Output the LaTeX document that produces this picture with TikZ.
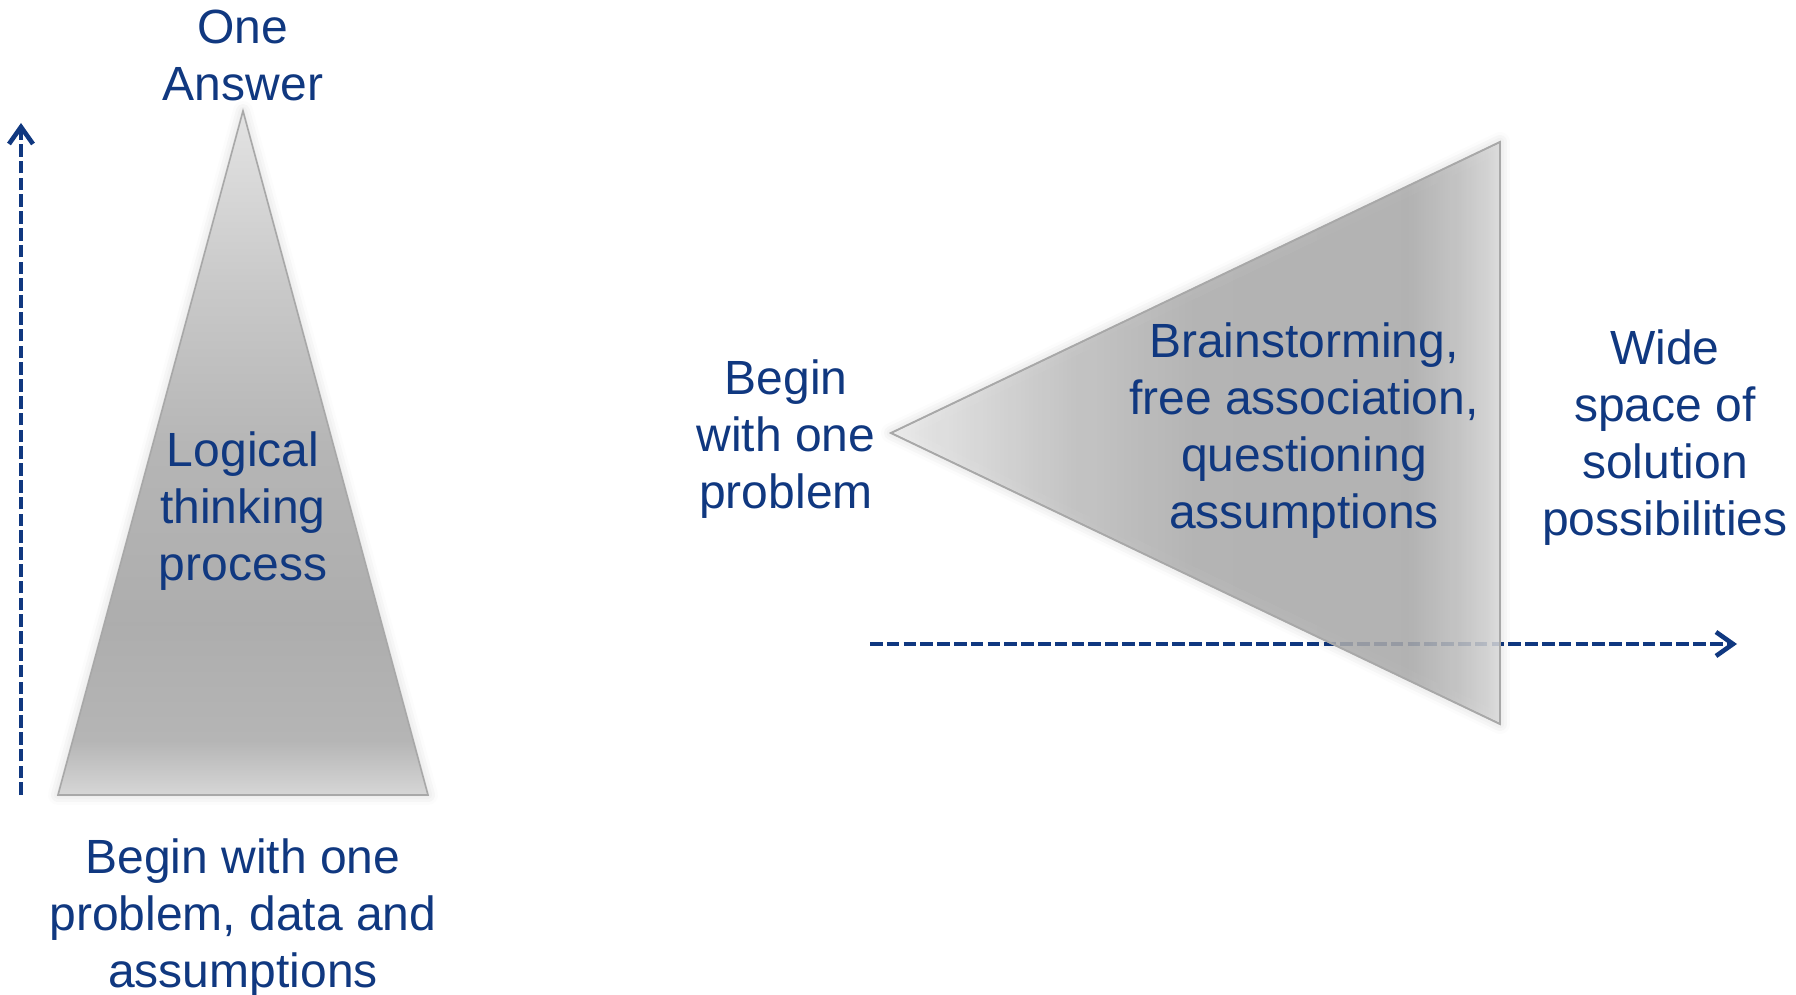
\documentclass[tikz,border=0pt]{standalone}
\usepackage{fontspec}
\setmainfont{Liberation Sans}
\usetikzlibrary{arrows.meta,shadows.blur}
\definecolor{txtblue}{RGB}{16,56,128}
\definecolor{edgegray}{RGB}{168,168,168}
\pgfdeclareverticalshading{lefttri}{100bp}{color(0bp)=(black!16); color(25bp)=(black!16); color(29bp)=(black!29); color(37.5bp)=(black!32); color(50bp)=(black!29); color(62.5bp)=(black!21); color(75bp)=(black!11); color(100bp)=(black!11)}
\pgfdeclarehorizontalshading{righttri}{100bp}{color(0bp)=(black!7); color(25bp)=(black!7); color(40bp)=(black!24); color(50bp)=(black!31); color(67.5bp)=(black!32); color(71.5bp)=(black!24); color(75bp)=(black!14); color(100bp)=(black!14)}
\tikzset{
  lbl/.style={text=txtblue, align=center, inner sep=0pt, font=\fontsize{24}{28.5}\selectfont},
  flowarrow/.style={draw=txtblue, line width=2.3pt, dash pattern=on 6.3pt off 2.1pt, -{Straight Barb[length=8.5pt,width=12pt,line width=2.3pt]}},
  tri/.style={draw=edgegray, line width=0.8pt, line join=miter, blur shadow={shadow xshift=0pt, shadow yshift=0pt, shadow blur radius=5pt, shadow opacity=18}}
}
\begin{document}
\begin{tikzpicture}[x=0.5pt, y=-0.5pt]
\useasboundingbox (0,0) rectangle (1796,995);
% left part
\coordinate (vb) at (21,795);
\coordinate (vt) at (21,123);
\draw[flowarrow] (vb) -- (vt);
\coordinate (la) at (243,111);
\coordinate (lb) at (58,795);
\coordinate (lc) at (428,795);
\path[tri, shading=lefttri] (la) -- (lc) -- (lb) -- cycle;
\node[lbl] (oneans) at (243,55) {One\\Answer};
\node[lbl] (logic) at (243,511) {Logical\\thinking\\process};
\node[lbl] (beginL) at (243,918) {Begin with one\\problem, data and\\assumptions};
% right part
\coordinate (hs) at (870,644);
\coordinate (he) at (1737,644);
\draw[flowarrow] (hs) -- (he);
\coordinate (ra) at (891,433);
\coordinate (rb) at (1500,142);
\coordinate (rc) at (1500,724);
\path[tri, shading=righttri, fill opacity=0.85] (ra) -- (rb) -- (rc) -- cycle;
\draw[edgegray, line width=0.8pt] (ra) -- (rb) -- (rc) -- cycle;
\node[lbl] (beginR) at (786,439) {Begin\\with one\\problem};
\node[lbl] (brain) at (1304,431) {Brainstorming,\\free association,\\questioning\\assumptions};
\node[lbl] (wide) at (1665,438) {Wide\\space of\\solution\\possibilities};
\end{tikzpicture}
\end{document}
